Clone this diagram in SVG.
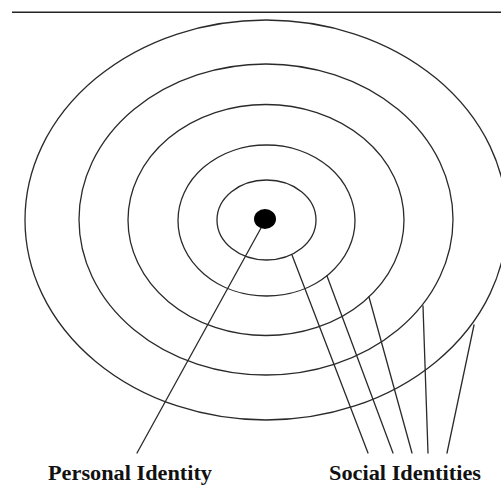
<svg xmlns="http://www.w3.org/2000/svg" width="501" height="498" viewBox="0 0 501 498">
  <style>
    .ring { fill: none; stroke: #2a2a2a; stroke-width: 1.3; }
    .link { fill: none; stroke: #2a2a2a; stroke-width: 1.3; stroke-linecap: round; }
    .rule { stroke: #222; stroke-width: 1.6; }
    .label { font-family: "Liberation Serif", "Times New Roman", serif; font-weight: bold; font-size: 20px; fill: #111; }
  </style>
  <rect width="501" height="498" fill="#fff"/>

  <!-- header rule -->
  <line class="rule" x1="12" y1="12.3" x2="501" y2="12.3"/>

  <!-- concentric identity rings, outermost first -->
  <g id="rings">
    <ellipse id="ring5" class="ring" cx="266" cy="220" rx="241" ry="200"/>
    <ellipse id="ring4" class="ring" cx="266" cy="219.5" rx="187" ry="155.5"/>
    <ellipse id="ring3" class="ring" cx="266" cy="220" rx="138" ry="115.5"/>
    <ellipse id="ring2" class="ring" cx="266.5" cy="220.5" rx="88.5" ry="75.5"/>
    <ellipse id="ring1" class="ring" cx="266.5" cy="220" rx="49.5" ry="40"/>
  </g>

  <!-- personal identity core -->
  <g id="core">
    <ellipse cx="265" cy="219" rx="11" ry="10" fill="#000"/>
  </g>

  <!-- connectors from rings to labels -->
  <g id="connectors">
    <line class="link" x1="261" y1="228" x2="137" y2="453"/>
    <line class="link" x1="292" y1="255" x2="368" y2="453"/>
    <line class="link" x1="327" y1="276" x2="393" y2="453"/>
    <line class="link" x1="369" y1="297" x2="412" y2="453"/>
    <line class="link" x1="423" y1="306" x2="428" y2="453"/>
    <line class="link" x1="474" y1="325" x2="447" y2="453"/>
  </g>

  <g id="label-personal">
    <text class="label" x="48" y="479.5" textLength="164" lengthAdjust="spacingAndGlyphs">Personal Identity</text>
  </g>
  <g id="label-social">
    <text class="label" x="329" y="479.5" textLength="152" lengthAdjust="spacingAndGlyphs">Social Identities</text>
  </g>
</svg>
